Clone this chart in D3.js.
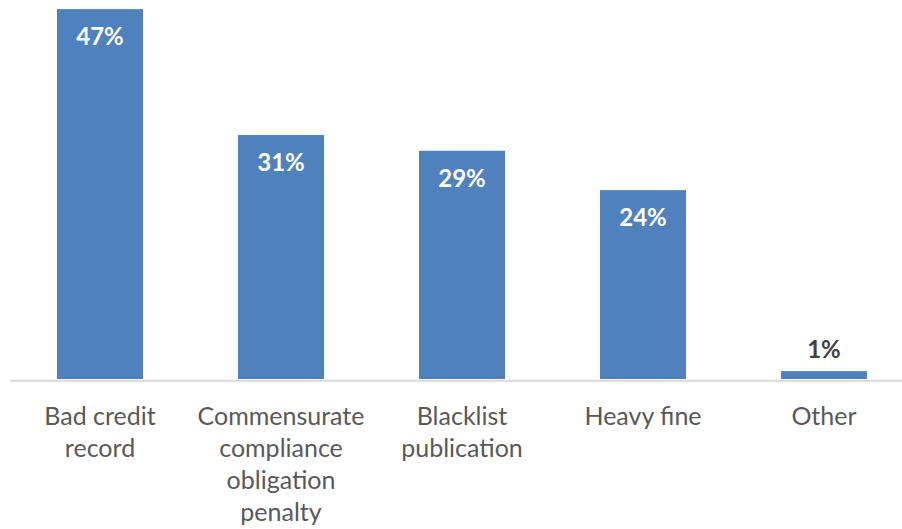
<!DOCTYPE html>
<html>
<head>
<meta charset="utf-8">
<script src="https://cdn.jsdelivr.net/npm/d3@7"></script>
<style>
  html, body { margin: 0; padding: 0; background: #ffffff; }
  svg { display: block; }
</style>
</head>
<body>
<div id="chart"></div>
<script>
// Penalty types and the share of respondents choosing each
const categories = ["Bad credit record", "Commensurate compliance obligation penalty", "Blacklist publication", "Heavy fine", "Other"];
const categoryLines = [
  ["Bad credit", "record"],
  ["Commensurate", "compliance", "obligation", "penalty"],
  ["Blacklist", "publication"],
  ["Heavy fine"],
  ["Other"]
];
const values = [47, 31, 29, 24, 1];

const width = 902, height = 529;
const baseline = 379;

const svg = d3.select("#chart").append("svg")
  .attr("width", width)
  .attr("height", height);

const x = d3.scaleBand()
  .domain(categories)
  .range([9.5, 914.5])
  .paddingInner(0.525)
  .paddingOuter(0.2625);

const y = d3.scaleLinear()
  .domain([0, 50])
  .range([baseline, baseline - 50 * 7.87]);

// Bars
svg.append("g").selectAll("rect")
  .data(values)
  .join("rect")
  .attr("x", (d, i) => x(categories[i]))
  .attr("y", d => y(d))
  .attr("width", x.bandwidth())
  .attr("height", d => y(0) - y(d))
  .attr("fill", "#4f81bd");

// Category axis line
svg.append("line")
  .attr("x1", 10).attr("x2", width)
  .attr("y1", baseline + 1.8).attr("y2", baseline + 1.8)
  .attr("stroke", "#d9d9d9")
  .attr("stroke-width", 2);

// Value labels: inside the bar when it is tall enough, otherwise above it
svg.append("g").selectAll("text")
  .data(values)
  .join("text")
  .attr("x", (d, i) => x(categories[i]) + x.bandwidth() / 2)
  .attr("y", d => (y(0) - y(d) > 50) ? y(d) + 36 : y(d) - 13)
  .attr("text-anchor", "middle")
  .attr("font-family", "Lato, 'Open Sans', sans-serif")
  .attr("font-weight", "bold")
  .attr("font-size", 24)
  .attr("fill", d => (y(0) - y(d) > 50) ? "#ffffff" : "#404040")
  .text(d => d + "%");

// Category labels, wrapped over several lines
const labels = svg.append("g").selectAll("text")
  .data(categories)
  .join("text")
  .attr("x", d => x(d) + x.bandwidth() / 2)
  .attr("y", 425)
  .attr("text-anchor", "middle")
  .attr("font-family", "Lato, 'Open Sans', sans-serif")
  .attr("font-size", 25)
  .attr("fill", "#595959");

labels.each(function(d, i) {
  d3.select(this).selectAll("tspan")
    .data(categoryLines[i])
    .join("tspan")
    .attr("x", x(d) + x.bandwidth() / 2)
    .attr("dy", (t, j) => j === 0 ? 0 : 32)
    .text(t => t);
});
</script>
</body>
</html>
